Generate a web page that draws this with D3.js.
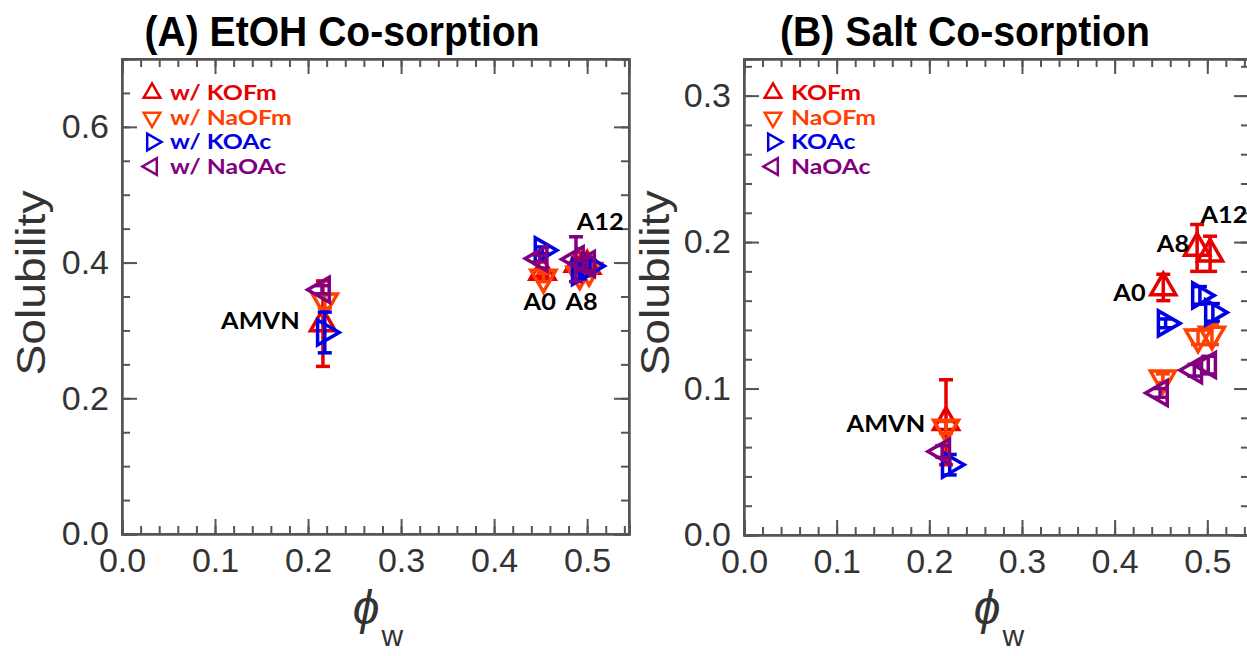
<!DOCTYPE html>
<html>
<head>
<meta charset="utf-8">
<script src="https://d3js.org/d3.v7.min.js"></script>
<style>
  body { margin: 0; background: #fff; }
  .tick text { font-family: "Liberation Sans", Arial, sans-serif; fill: #333; }
  .axis path, .axis line { stroke: #555; stroke-width: 2; }
</style>
</head>
<body>
<div id="chart"></div>
<script>
// series: name, colour, rotation of the open triangle
const seriesNames = ["KOFm", "NaOFm", "KOAc", "NaOAc"];
const seriesColors = ["#e60000", "#ff4000", "#0000e6", "#800080"];
const seriesRotation = [0, 180, 90, -90];

// [phi_w, solubility, error] for AMVN, A0, A8, A12
const etohKOFm  = [[0.216, 0.310, 0.063], [0.452, 0.386, 0.006], [0.490, 0.398, 0.010], [0.500, 0.395, 0.010]];
const etohNaOFm = [[0.218, 0.343, 0.010], [0.453, 0.378, 0.006], [0.492, 0.383, 0.008], [0.502, 0.388, 0.008]];
const etohKOAc  = [[0.218, 0.297, 0.030], [0.452, 0.418, 0.005], [0.492, 0.386, 0.010], [0.503, 0.395, 0.008]];
const etohNaOAc = [[0.215, 0.360, 0.006], [0.449, 0.406, 0.005], [0.488, 0.405, 0.033], [0.500, 0.398, 0.010]];

const saltKOFm  = [[0.218, 0.077, 0.029], [0.4525, 0.169, 0.009], [0.489, 0.196, 0.016], [0.503, 0.192, 0.012]];
const saltNaOFm = [[0.218, 0.0735, 0.004], [0.452, 0.107, 0.003], [0.490, 0.135, 0.005], [0.505, 0.137, 0.007]];
const saltKOAc  = [[0.222, 0.048, 0.007], [0.455, 0.1445, 0.003], [0.492, 0.1636, 0.006], [0.506, 0.152, 0.006]];
const saltNaOAc = [[0.214, 0.057, 0.004], [0.449, 0.097, 0.003], [0.486, 0.1125, 0.004], [0.501, 0.116, 0.006]];

// sample labels [text, phi_w, solubility, anchor]
const etohLabels = [["AMVN", 0.191, 0.302, "end"], ["A0", 0.449, 0.330, "middle"], ["A8", 0.494, 0.330, "middle"], ["A12", 0.514, 0.448, "middle"]];
const saltLabels = [["AMVN", 0.1955, 0.070, "end"], ["A0", 0.416, 0.160, "middle"], ["A8", 0.463, 0.193, "middle"], ["A12", 0.518, 0.213, "middle"]];

const etohLegend = ["w/ KOFm", "w/ NaOFm", "w/ KOAc", "w/ NaOAc"];
const saltLegend = ["KOFm", "NaOFm", "KOAc", "NaOAc"];

const svg = d3.select("#chart").append("svg")
  .attr("width", 1247)
  .attr("height", 656);

const tri = d3.symbol().type(d3.symbolTriangle);

// the reference uses a wide bold face, stretch Lato a little to match
function widen(sel, f) {
  sel.each(function () {
    const w = this.getComputedTextLength();
    d3.select(this).attr("textLength", w * f).attr("lengthAdjust", "spacingAndGlyphs");
  });
}

function drawPanel(cfg) {
  const g = svg.append("g").attr("transform", `translate(${cfg.left},${cfg.top})`);
  const x = d3.scaleLinear().domain([0, 0.545]).range([0, cfg.width]);
  const y = d3.scaleLinear().domain([0, cfg.yMax]).range([cfg.height, 0]);

  const xMajor = d3.range(0, 0.5001, 0.1);
  const xMinor = d3.range(0, 0.545, 0.02);
  const yMajor = d3.range(0, cfg.yMax + 1e-9, cfg.yStep);
  const yMinor = d3.range(0, cfg.yMax + 1e-9, cfg.yMinorStep);

  // frame
  g.append("rect")
    .attr("width", cfg.width).attr("height", cfg.height)
    .attr("fill", "none").attr("stroke", "#555").attr("stroke-width", 2);

  // minor ticks on all sides
  g.append("g").attr("class", "axis").attr("transform", `translate(0,${cfg.height})`)
    .call(d3.axisBottom(x).tickValues(xMinor).tickSize(-8).tickFormat(""));
  g.append("g").attr("class", "axis")
    .call(d3.axisTop(x).tickValues(xMinor).tickSize(-8).tickFormat(""));
  g.append("g").attr("class", "axis")
    .call(d3.axisLeft(y).tickValues(yMinor).tickSize(-8).tickFormat(""));
  g.append("g").attr("class", "axis").attr("transform", `translate(${cfg.width},0)`)
    .call(d3.axisRight(y).tickValues(yMinor).tickSize(-8).tickFormat(""));

  // major ticks
  g.append("g").attr("class", "axis").attr("transform", `translate(0,${cfg.height})`)
    .call(d3.axisBottom(x).tickValues(xMajor).tickSize(-15).tickPadding(14).tickFormat(d3.format(".1f")))
    .call(a => a.selectAll("text").style("font-size", "34px"));
  g.append("g").attr("class", "axis")
    .call(d3.axisTop(x).tickValues(xMajor).tickSize(-15).tickFormat(""));
  g.append("g").attr("class", "axis")
    .call(d3.axisLeft(y).tickValues(yMajor).tickSize(-15).tickPadding(13).tickFormat(d3.format(".1f")))
    .call(a => a.selectAll("text").style("font-size", "34px"));
  g.append("g").attr("class", "axis").attr("transform", `translate(${cfg.width},0)`)
    .call(d3.axisRight(y).tickValues(yMajor).tickSize(-15).tickFormat(""));

  // title
  svg.append("text")
    .attr("x", cfg.titleX).attr("y", 46)
    .attr("text-anchor", "middle")
    .attr("textLength", cfg.titleLen)
    .attr("lengthAdjust", "spacingAndGlyphs")
    .style("font-family", "Liberation Sans, Arial, sans-serif")
    .style("font-weight", "bold")
    .style("font-size", "43px")
    .text(cfg.title);

  // y axis title
  svg.append("text")
    .attr("transform", `translate(${cfg.yTitleX},283) rotate(-90)`)
    .attr("text-anchor", "middle")
    .attr("textLength", 185)
    .attr("lengthAdjust", "spacingAndGlyphs")
    .style("font-family", "Liberation Sans, Arial, sans-serif")
    .style("font-size", "40px")
    .style("fill", "#333")
    .text("Solubility");

  // x axis title
  const xt = svg.append("text")
    .attr("x", cfg.left + x(0.248)).attr("y", 624)
    .style("font-family", "Liberation Sans, Arial, sans-serif")
    .style("fill", "#333");
  xt.append("tspan").style("font-size", "48px").style("font-style", "italic").text("ϕ");
  xt.append("tspan").style("font-size", "30px").attr("dy", 22).attr("dx", 2).text("w");

  // error bars and markers
  cfg.series.forEach((data, i) => {
    const col = seriesColors[i];
    const s = g.append("g");
    data.forEach(d => {
      const cx = x(d[0]);
      s.append("line")
        .attr("x1", cx).attr("x2", cx)
        .attr("y1", y(d[1] - d[2])).attr("y2", y(d[1] + d[2]))
        .attr("stroke", col).attr("stroke-width", 3.5);
      [d[1] - d[2], d[1] + d[2]].forEach(v => {
        s.append("line")
          .attr("x1", cx - 7).attr("x2", cx + 7)
          .attr("y1", y(v)).attr("y2", y(v))
          .attr("stroke", col).attr("stroke-width", 3.5);
      });
      s.append("path")
        .attr("d", tri.size(cfg.markerSize)())
        .attr("transform", `translate(${cx},${y(d[1])}) rotate(${seriesRotation[i]})`)
        .attr("fill", "none")
        .attr("stroke", col)
        .attr("stroke-width", 3.5);
    });
  });

  // sample labels
  cfg.labels.forEach(l => {
    g.append("text")
      .attr("x", x(l[1])).attr("y", y(l[2]))
      .attr("text-anchor", l[3])
      .style("font-family", "Lato, Open Sans, sans-serif")
      .style("font-weight", "bold")
      .style("font-size", "23px")
      .text(l[0])
      .call(widen, 1.1);
  });

  // legend
  const legend = g.selectAll(".legend")
    .data(cfg.legend)
    .enter().append("g")
    .attr("class", "legend")
    .attr("transform", (d, i) => `translate(${cfg.legendX},${34 + i * 24.5})`);

  legend.append("path")
    .attr("d", tri.size(120)())
    .attr("transform", (d, i) => `rotate(${seriesRotation[i]})`)
    .attr("fill", "none")
    .attr("stroke", (d, i) => seriesColors[i])
    .attr("stroke-width", 2.5);

  legend.append("text")
    .attr("x", 18)
    .attr("dy", "0.36em")
    .style("font-family", "Lato, Open Sans, sans-serif")
    .style("font-weight", "bold")
    .style("font-size", "20px")
    .style("fill", (d, i) => seriesColors[i])
    .text(d => d)
    .call(widen, 1.24);
}

drawPanel({
  left: 122, top: 59, width: 507, height: 475, yMax: 0.7, yStep: 0.2, yMinorStep: 0.05,
  title: "(A) EtOH Co-sorption", titleX: 342, titleLen: 395, yTitleX: 45,
  series: [etohKOFm, etohNaOFm, etohKOAc, etohNaOAc],
  labels: etohLabels, legend: etohLegend, legendX: 30, markerSize: 270
});

drawPanel({
  left: 744, top: 59, width: 505, height: 476, yMax: 0.325, yStep: 0.1, yMinorStep: 0.02,
  title: "(B) Salt Co-sorption", titleX: 965, titleLen: 370, yTitleX: 669,
  series: [saltKOFm, saltNaOFm, saltKOAc, saltNaOAc],
  labels: saltLabels, legend: saltLegend, legendX: 29, markerSize: 270
});
</script>
</body>
</html>
